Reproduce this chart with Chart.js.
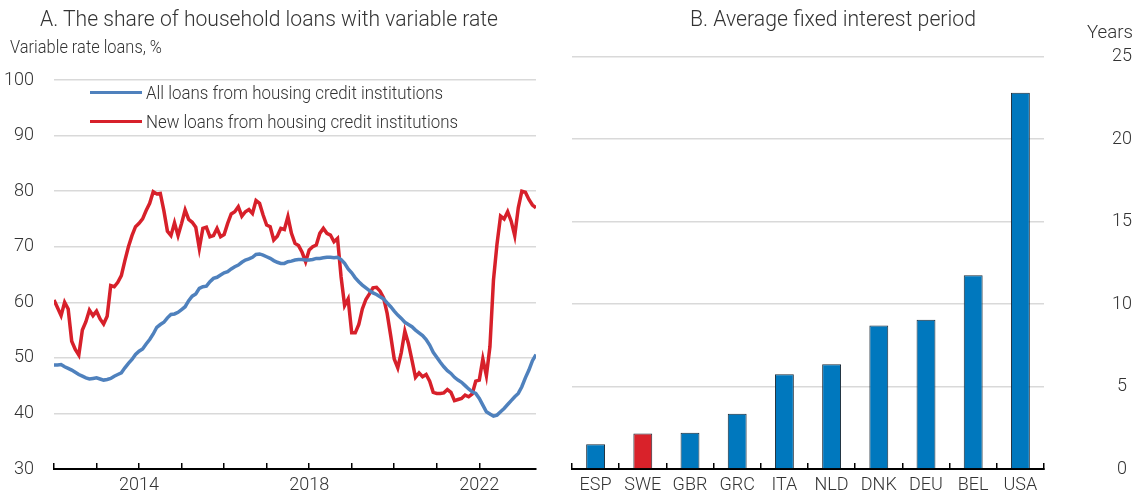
<!DOCTYPE html>
<html><head><meta charset="utf-8">
<script src="https://cdn.jsdelivr.net/npm/chart.js@4.4.1/dist/chart.umd.min.js"></script>
<style>
html,body{margin:0;padding:0;background:#fff;}
#wrap{position:relative;width:1139px;height:501px;overflow:hidden;font-family:Roboto,'Liberation Sans',sans-serif;font-weight:300;color:#333;}
.t{position:absolute;white-space:nowrap;line-height:1;transform-origin:0 0;}
canvas{position:absolute;top:0;}
.sw{position:absolute;height:3px;width:52px;}
</style></head><body>
<div id="wrap">
<canvas id="cA" width="560" height="501" style="left:0"></canvas>
<canvas id="cB" width="579" height="501" style="left:560px"></canvas>
<div class="t" data-w="458" style="left:40px;top:8px;font-size:22px">A. The share of household loans with variable rate</div>
<div class="t" data-w="152" style="left:10px;top:38px;font-size:18px">Variable rate loans, %</div>
<div class="sw" style="left:90px;top:91px;background:#4F81BD"></div>
<div class="t" data-w="297" style="left:146px;top:83px;font-size:19px">All loans from housing credit institutions</div>
<div class="sw" style="left:90px;top:120px;background:#D7202A"></div>
<div class="t" data-w="312" style="left:146px;top:112px;font-size:19px">New loans from housing credit institutions</div>
<div class="t" data-w="286" style="left:690px;top:8px;font-size:22px">B. Average fixed interest period</div>
<div class="t" data-w="46" style="left:1087px;top:22px;font-size:19px">Years</div>
</div>
<script>
// ---- Panel A data (monthly, starting Jan 2012) ----
const startYear = 2012;
const allLoans = [48.7,48.7,48.8,48.4,48.1,47.8,47.4,47.0,46.7,46.4,46.2,46.3,46.4,46.2,46.0,46.1,46.3,46.7,47.0,47.3,
48.2,49.0,49.7,50.6,51.2,51.6,52.5,53.3,54.3,55.5,56.0,56.4,57.2,57.8,57.9,58.2,58.7,59.2,60.3,61.1,
61.5,62.5,62.8,62.9,63.7,64.3,64.5,64.9,65.3,65.5,66.0,66.4,66.7,67.2,67.6,67.8,68.1,68.6,68.7,68.5,
68.2,67.9,67.5,67.2,67.0,67.0,67.3,67.4,67.6,67.7,67.7,67.6,67.6,67.7,67.9,67.9,68.0,68.1,68.1,68.0,
68.1,67.7,67.0,66.0,65.3,64.4,63.7,63.1,62.6,62.1,61.7,61.4,61.0,60.6,59.9,59.2,58.4,57.7,57.1,56.4,
56.0,55.6,55.0,54.5,54.0,53.3,52.3,51.0,50.1,49.2,48.4,47.7,47.2,46.5,46.0,45.6,45.0,44.4,43.9,43.6,
42.7,41.5,40.3,39.9,39.5,39.7,40.3,40.9,41.6,42.3,43.0,43.6,44.8,46.4,47.8,49.5,50.6];
const newLoans = [60.4,59.0,57.6,60.0,58.8,53.0,51.5,50.5,55.0,56.5,58.6,57.6,58.4,57.0,56.1,57.5,63.0,62.8,63.6,64.8,
67.5,70.0,72.0,73.6,74.2,75.0,76.5,77.8,79.9,79.5,79.6,76.5,72.8,72.0,74.3,72.0,74.2,76.6,74.9,74.4,
73.5,69.7,73.3,73.5,71.8,72.0,73.3,71.8,72.2,74.2,75.9,76.3,77.2,75.5,76.3,76.7,76.0,78.3,77.8,75.7,
73.9,73.6,71.2,71.9,73.3,73.1,75.4,72.4,70.6,70.2,69.0,67.3,69.4,70.0,70.3,72.4,73.3,72.4,72.1,70.9,
71.5,64.6,59.4,60.6,54.5,54.5,56.0,58.8,60.5,61.5,62.6,62.7,62.0,60.8,58.0,54.0,49.8,48.2,51.0,54.8,
52.6,49.6,46.5,47.3,46.6,47.0,45.8,43.8,43.6,43.6,43.7,44.3,43.8,42.3,42.5,42.7,43.3,43.0,43.5,45.8,
46.0,49.8,46.8,52.0,64.0,70.5,75.5,75.0,76.3,74.6,72.0,77.0,80.0,79.8,78.5,77.5,77.0];
const xTickLabels = ['2014','2018','2022'];

// ---- Panel B data ----
const countries = ['ESP','SWE','GBR','GRC','ITA','NLD','DNK','DEU','BEL','USA'];
const fixedYears = [1.5,2.15,2.2,3.35,5.75,6.35,8.7,9.05,11.75,22.8];
const highlight = 'SWE';

// fit HTML text labels to the reference widths
function fitText() {
  document.querySelectorAll('.t[data-w]').forEach(el => {
    el.style.transform = 'none';
    const w = el.getBoundingClientRect().width;
    if (w > 0) el.style.transform = 'scaleX(' + (parseFloat(el.dataset.w) / w) + ')';
  });
}
fitText();
if (document.fonts && document.fonts.ready) document.fonts.ready.then(fitText);

const FONT = "Roboto,'Liberation Sans',sans-serif";
const TXT = '#333';
const GRID = '#d9d9d9';
Chart.defaults.font.family = FONT;
Chart.defaults.font.weight = 300;
Chart.defaults.color = TXT;

const toXY = arr => arr.map((v, i) => ({x: startYear + i / 12, y: v}));
const xMax = startYear + (allLoans.length - 1) / 12;

new Chart(document.getElementById('cA'), {
  type: 'line',
  data: { datasets: [
    {label: 'All loans from housing credit institutions', data: toXY(allLoans), borderColor: '#4F81BD', borderWidth: 3.5, pointRadius: 0, tension: 0},
    {label: 'New loans from housing credit institutions', data: toXY(newLoans), borderColor: '#D7202A', borderWidth: 3.5, pointRadius: 0, tension: 0}
  ]},
  options: {
    responsive: false, animation: false, devicePixelRatio: 1,
    layout: {padding: {top: 80, right: 24, left: 0, bottom: 0}},
    plugins: {legend: {display: false}, tooltip: {enabled: false}},
    scales: {
      x: {
        type: 'linear', min: startYear, max: xMax,
        afterBuildTicks: s => { s.ticks = s.ticks.filter(t => Math.abs(t.value - Math.round(t.value)) < 1e-6 && t.value < xMax - 0.01); },
        afterFit: s => { s.height = 32; },
        grid: {drawOnChartArea: false, drawTicks: true, tickLength: -6, color: '#000', lineWidth: 1.5},
        border: {display: true, color: '#000', width: 2},
        ticks: {stepSize: 1, autoSkip: false, maxRotation: 0, padding: 12, font: {size: 18},
          callback: v => xTickLabels.includes(String(v)) ? String(v) : ''}
      },
      y: {
        min: 30, max: 100,
        afterFit: s => { s.width = 54; },
        grid: {drawTicks: false, lineWidth: 1.5, color: c => c.tick && c.tick.value === 30 ? 'rgba(0,0,0,0)' : GRID},
        border: {display: false},
        ticks: {stepSize: 10, padding: 20, font: {size: 18}}
      }
    }
  }
});

new Chart(document.getElementById('cB'), {
  type: 'bar',
  data: { labels: countries, datasets: [{
    data: fixedYears,
    backgroundColor: countries.map(c => c === highlight ? '#D9222A' : '#0078BE'),
    borderColor: '#1d2b38', borderWidth: 1,
    categoryPercentage: 1, barPercentage: 0.4
  }]},
  options: {
    responsive: false, animation: false, devicePixelRatio: 1,
    layout: {padding: {top: 56.5, right: 0, left: 12, bottom: 0}},
    plugins: {legend: {display: false}, tooltip: {enabled: false}},
    scales: {
      x: {
        afterFit: s => { s.height = 32; },
        grid: {offset: true, drawOnChartArea: false, drawTicks: true, tickLength: -6, color: '#000', lineWidth: 1.5},
        border: {display: true, color: '#000', width: 2},
        ticks: {padding: 12, font: {size: 18}, autoSkip: false, maxRotation: 0}
      },
      y: {
        position: 'right', min: 0, max: 25,
        afterFit: s => { s.width = 95; s.paddingTop = 10; s.paddingBottom = 10; },
        grid: {drawTicks: false, lineWidth: 1.5, color: c => c.tick && c.tick.value === 0 ? 'rgba(0,0,0,0)' : GRID},
        border: {display: false},
        ticks: {stepSize: 5, padding: 68, crossAlign: 'center', font: {size: 18}}
      }
    }
  }
});
</script>
</body></html>
